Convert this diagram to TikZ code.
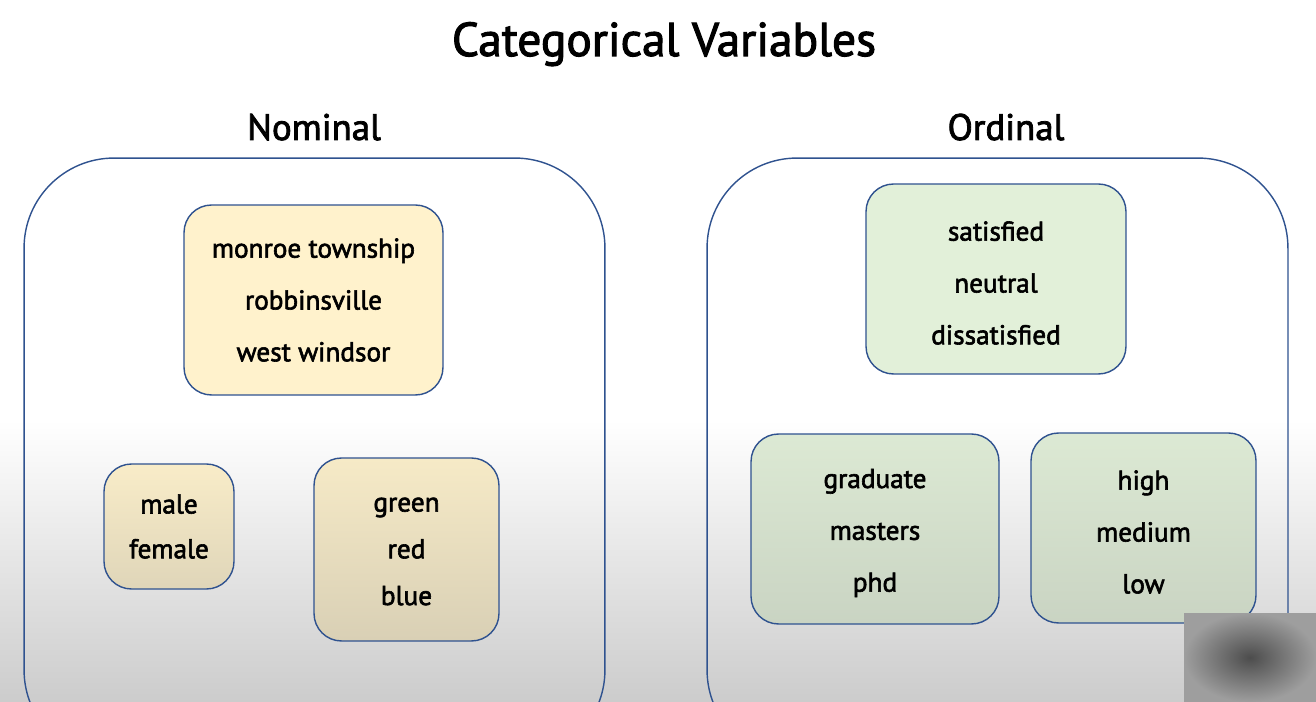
\documentclass[tikz,border=0pt]{standalone}
\usepackage{fontspec}
\setmainfont{PT Sans}[FakeBold=2.2]
\definecolor{boxline}{HTML}{2F528F}
\definecolor{nomfill}{HTML}{FFF2CC}
\definecolor{ordfill}{HTML}{E2F0D9}
\begin{document}
\begin{tikzpicture}[x=0.02cm,y=-0.02cm,
		group/.style={draw=boxline,line width=0.8pt,rounded corners=1.8cm,minimum width=11.62cm,minimum height=12.04cm},
		item/.style={draw=boxline,line width=0.8pt,rounded corners=0.55cm,inner sep=0pt},
		itemtext/.style={align=center,inner sep=0pt,font=\fontsize{15.5}{29.5}\selectfont},
		heading/.style={anchor=base,font=\fontsize{21}{25}\selectfont}]
		\useasboundingbox (0,0) rectangle (1316,702);
		\clip (0,0) rectangle (1316,702);
		\fill[white] (0,0) rectangle (1316,420);
		\shade[top color=white,bottom color=gray!40] (0,420) rectangle (1316,702);
		\node[anchor=base,font=\fontsize{27}{32}\selectfont] (title) at (664,56) {Categorical Variables};
		\foreach \x/\hx/\name/\label in {314.5/314/nominal/Nominal,997.5/1006/ordinal/Ordinal}
		{
			\node[group] (\name) at (\x,459) {};
			\node[heading] (\name-head) at (\hx,140) {\label};
		}
		% nominal
		\node[item,fill=nomfill,minimum width=5.18cm,minimum height=3.8cm] (towns) at (313.5,300) {};
		\node[itemtext] (towns-text) at (towns) {monroe township\\robbinsville\\west windsor};
		\node[item,top color=nomfill!95!gray,bottom color=nomfill!75!gray,minimum width=2.6cm,minimum height=2.5cm] (gender) at (169,526.5) {};
		\node[itemtext,font=\fontsize{15.5}{25.5}\selectfont] (gender-text) at (gender) {male\\female};
		\node[item,top color=nomfill!93!gray,bottom color=nomfill!70!gray,minimum width=3.7cm,minimum height=3.66cm] (colours) at (406.5,549.5) {};
		\node[itemtext,font=\fontsize{15.5}{26.6}\selectfont,yshift=-0.04cm] (colours-text) at (colours) {green\\red\\blue};
		% ordinal
		\node[item,fill=ordfill,minimum width=5.2cm,minimum height=3.8cm] (satisfaction) at (996,279) {};
		\node[itemtext,yshift=-0.08cm] (satisfaction-text) at (satisfaction) {satisfied\\neutral\\dissatisfied};
		\node[item,top color=ordfill!94!gray,bottom color=ordfill!75!gray,minimum width=4.96cm,minimum height=3.8cm] (degree) at (875,529) {};
		\node[itemtext,yshift=-0.08cm] (degree-text) at (degree) {graduate\\masters\\phd};
		\node[item,top color=ordfill!94!gray,bottom color=ordfill!75!gray,minimum width=4.5cm,minimum height=3.8cm] (level) at (1143.5,528) {};
		\node[itemtext,yshift=-0.08cm] (level-text) at (level) {high\\medium\\low};
		\shade[inner color=black!70,outer color=black!38] (1184,613) rectangle (1316,702);
	\end{tikzpicture}
\end{document}
